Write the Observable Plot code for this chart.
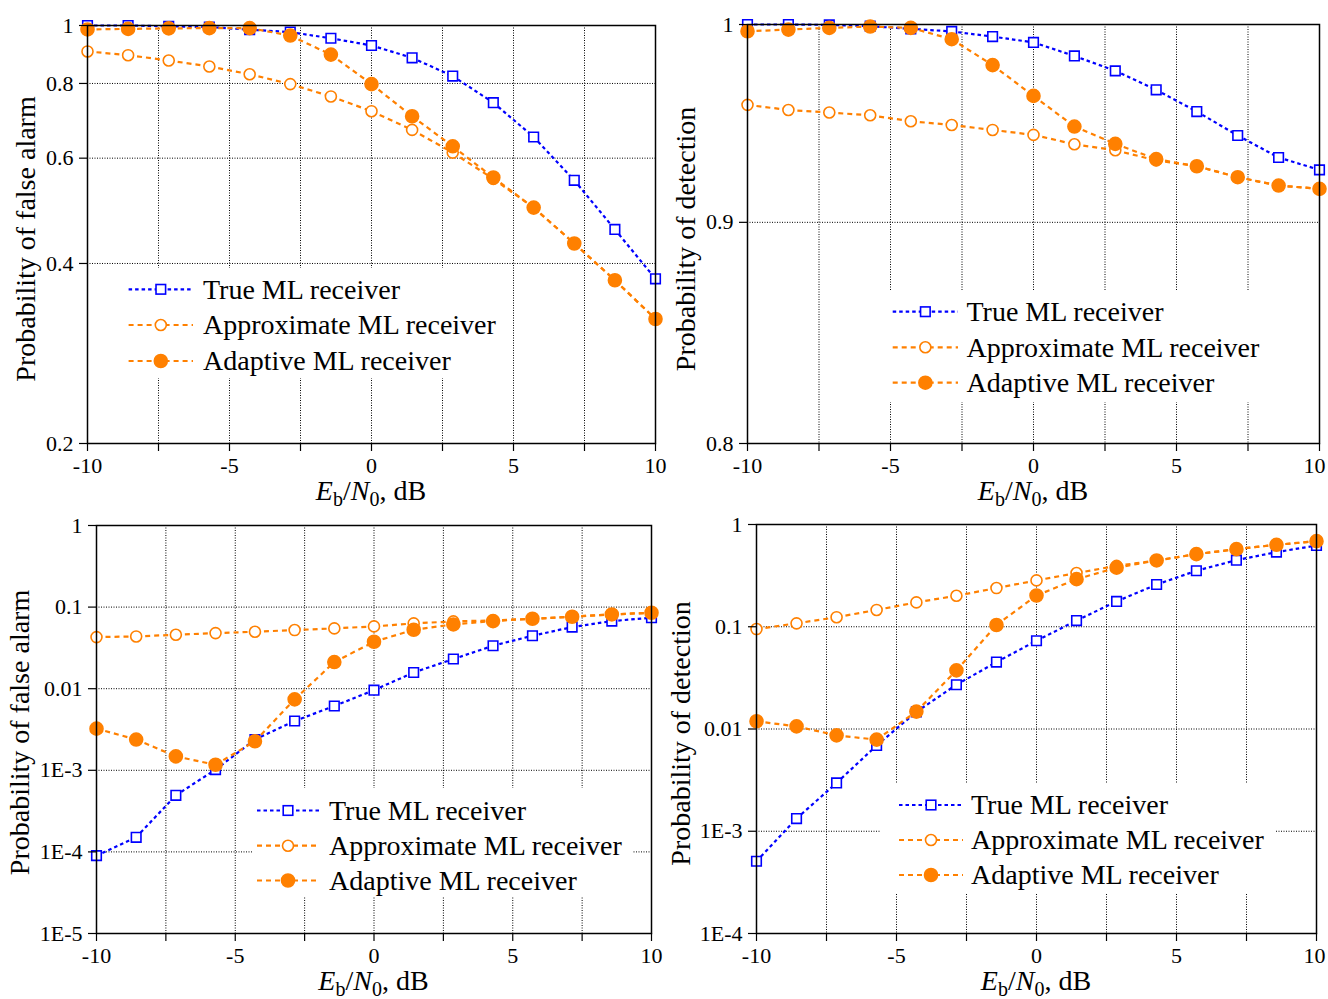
<!DOCTYPE html>
<html><head><meta charset="utf-8">
<script src="https://cdn.jsdelivr.net/npm/d3@7"></script>
<script src="https://cdn.jsdelivr.net/npm/@observablehq/plot@0.6"></script>
<style>
body{margin:0;background:#fff;}
#root{position:relative;width:1328px;height:999px;overflow:hidden;font-family:"Liberation Serif","Times New Roman",serif;}
</style></head><body><div id="root"></div>
<script>
// ---------- data ----------
const ebn0 = [-10, -8.57, -7.14, -5.71, -4.29, -2.86, -1.43, 0, 1.43, 2.86, 4.29, 5.71, 7.14, 8.57, 10];
const seriesNames = ["True ML receiver", "Approximate ML receiver", "Adaptive ML receiver"];
const xTicks = [-10, -7.5, -5, -2.5, 0, 2.5, 5, 7.5, 10];
const xTickLabels = ["-10", "", "-5", "", "0", "", "5", "", "10"];

// top-left: probability of false alarm
const pfaTopTrue   = [1.0, 1.0, 0.997, 0.994, 0.984, 0.975, 0.952, 0.926, 0.883, 0.823, 0.743, 0.651, 0.551, 0.456, 0.377];
const pfaTopApprox = [0.905, 0.892, 0.874, 0.854, 0.829, 0.798, 0.761, 0.719, 0.669, 0.613, 0.554, 0.496, 0.432, 0.375, 0.323];
const pfaTopAdapt  = [0.985, 0.987, 0.989, 0.99, 0.99, 0.962, 0.894, 0.798, 0.705, 0.628, 0.557, 0.496, 0.432, 0.375, 0.323];
const pfaTopTicks = [0.2, 0.4, 0.6, 0.8, 1];
const pfaTopTickLabels = ["0.2", "0.4", "0.6", "0.8", "1"];

// top-right: probability of detection
const pdTopTrue   = [1.0, 1.0, 0.9998, 0.9991, 0.9977, 0.9963, 0.9936, 0.9905, 0.9834, 0.9756, 0.9658, 0.9547, 0.9426, 0.9316, 0.9255];
const pdTopApprox = [0.9581, 0.9555, 0.9542, 0.9528, 0.9498, 0.9479, 0.9454, 0.9429, 0.9382, 0.9352, 0.9302, 0.9273, 0.9219, 0.9178, 0.9162];
const pdTopAdapt  = [0.9964, 0.9973, 0.9982, 0.9989, 0.9982, 0.9922, 0.9786, 0.9627, 0.9471, 0.9384, 0.9308, 0.9273, 0.9219, 0.9178, 0.9162];
const pdTopTicks = [0.8, 0.9, 1];
const pdTopTickLabels = ["0.8", "0.9", "1"];

// bottom-left: probability of false alarm
const pfaBotTrue   = [9.0e-5, 1.51e-4, 4.94e-4, 1.02e-3, 2.38e-3, 4.02e-3, 6.14e-3, 9.6e-3, 0.0158, 0.0231, 0.0336, 0.0446, 0.0569, 0.0674, 0.074];
const pfaBotApprox = [0.0429, 0.0437, 0.0458, 0.048, 0.0499, 0.0523, 0.0548, 0.058, 0.0631, 0.0668, 0.0686, 0.072, 0.0762, 0.0813, 0.0853];
const pfaBotAdapt  = [3.24e-3, 2.38e-3, 1.48e-3, 1.17e-3, 2.27e-3, 7.4e-3, 0.0212, 0.0376, 0.0528, 0.0613, 0.0674, 0.072, 0.0762, 0.0813, 0.0853];
const pfaBotTicks = [1e-5, 1e-4, 1e-3, 0.01, 0.1, 1];
const pfaBotTickLabels = ["1E-5", "1E-4", "1E-3", "0.01", "0.1", "1"];

// bottom-right: probability of detection
const pdBotTrue   = [5.09e-4, 1.33e-3, 2.97e-3, 6.9e-3, 0.0147, 0.0271, 0.0451, 0.073, 0.115, 0.177, 0.259, 0.353, 0.448, 0.537, 0.623];
const pdBotApprox = [0.0949, 0.108, 0.124, 0.146, 0.173, 0.201, 0.239, 0.284, 0.335, 0.394, 0.445, 0.513, 0.574, 0.633, 0.687];
const pdBotAdapt  = [0.0119, 0.0106, 8.67e-3, 7.87e-3, 0.0148, 0.0374, 0.104, 0.202, 0.292, 0.378, 0.445, 0.513, 0.574, 0.633, 0.687];
const pdBotTicks = [1e-4, 1e-3, 0.01, 0.1, 1];
const pdBotTickLabels = ["1E-4", "1E-3", "0.01", "0.1", "1"];

const yTitleFA = "Probability of false alarm";
const yTitleD = "Probability of detection";

// ---------- styling ----------
const BLUE = "#0000ff", ORANGE = "#ff8000";
const FONT = "'Liberation Serif','Times New Roman',serif";
const TICK_FONT = 22;
const LINE_W = 2.2;
const styles = [
  {color: BLUE,   dash: "3.5,3", symbol: "square", r: 5.4, fill: "white"},
  {color: ORANGE, dash: "5,4",   symbol: "circle", r: 5.5, fill: "white"},
  {color: ORANGE, dash: "5,4",   symbol: "circle", r: 6.5, fill: ORANGE}
];
const GRID = {stroke: "#000", strokeOpacity: 1, strokeDasharray: "1,1.5", strokeWidth: 1};

const root = document.getElementById("root");

function panel(cfg) {
  const {left, top, width, height, mL, mR, mT, mB, yTicks, yLabels, values, lastLabelDx} = cfg;
  const marks = [
    Plot.gridX(xTicks.slice(1, -1), GRID),
    Plot.gridY(yTicks.slice(1, -1), GRID)
  ];
  values.forEach((arr, s) => {
    const st = styles[s];
    const d = arr.map((v, i) => ({x: ebn0[i], y: v, series: seriesNames[s]}));
    // segment-wise dashed connection (each segment restarts its dash pattern, as in the original figure)
    const segs = d.slice(1).map((p, i) => ({x1: d[i].x, y1: d[i].y, x2: p.x, y2: p.y}));
    marks.push(Plot.link(segs, {x1: "x1", y1: "y1", x2: "x2", y2: "y2", stroke: st.color, strokeWidth: LINE_W, strokeDasharray: st.dash}));
    marks.push(Plot.dot(d, {x: "x", y: "y", symbol: st.symbol, r: st.r, stroke: st.color, strokeWidth: 1.6, fill: st.fill}));
  });
  marks.push(Plot.frame({stroke: "black", strokeWidth: 1.5}));
  const lastX = xTicks[xTicks.length - 1];
  marks.push(Plot.axisX(xTicks, {tickSize: 8, tickPadding: 6, strokeWidth: 1.2, fontSize: TICK_FONT, label: null,
    tickFormat: d => (lastLabelDx && d === lastX) ? "" : xTickLabels[xTicks.indexOf(d)]}));
  if (lastLabelDx) {
    marks.push(Plot.axisX([lastX], {tickSize: 0, tickPadding: 14, dx: lastLabelDx, fontSize: TICK_FONT, label: null,
      tickFormat: d => xTickLabels[xTicks.indexOf(d)]}));
  }
  marks.push(Plot.axisY(yTicks, {tickSize: 8, tickPadding: 6, strokeWidth: 1.2, fontSize: TICK_FONT, label: null,
    tickFormat: d => yLabels[yTicks.indexOf(d)]}));
  const svg = Plot.plot({
    width, height, marginLeft: mL, marginRight: mR, marginTop: mT, marginBottom: mB,
    style: {background: "transparent", overflow: "visible", fontFamily: FONT, color: "black"},
    x: {domain: [-10, 10]},
    y: {type: "log", domain: [yTicks[0], yTicks[yTicks.length - 1]]},
    marks
  });
  svg.style.position = "absolute";
  svg.style.left = left + "px";
  svg.style.top = top + "px";
  root.appendChild(svg);
}

panel({left: 0, top: 0, width: 664, height: 500, mL: 87, mR: 9, mT: 25, mB: 57,
  yTicks: pfaTopTicks, yLabels: pfaTopTickLabels, values: [pfaTopTrue, pfaTopApprox, pfaTopAdapt]});
panel({left: 664, top: 0, width: 664, height: 500, mL: 83, mR: 9, mT: 24, mB: 57, lastLabelDx: -5,
  yTicks: pdTopTicks, yLabels: pdTopTickLabels, values: [pdTopTrue, pdTopApprox, pdTopAdapt]});
panel({left: 0, top: 500, width: 664, height: 499, mL: 96, mR: 13, mT: 25, mB: 66,
  yTicks: pfaBotTicks, yLabels: pfaBotTickLabels, values: [pfaBotTrue, pfaBotApprox, pfaBotAdapt]});
panel({left: 664, top: 500, width: 664, height: 499, mL: 92, mR: 12, mT: 24, mB: 66, lastLabelDx: -2,
  yTicks: pdBotTicks, yLabels: pdBotTickLabels, values: [pdBotTrue, pdBotApprox, pdBotAdapt]});

// ---------- overlay: titles & legends ----------
const ov = d3.select(root).append("svg")
  .attr("width", 1328).attr("height", 999)
  .style("position", "absolute").style("left", "0px").style("top", "0px")
  .attr("font-family", FONT).attr("fill", "black");

function xLabel(cx, baseY) {
  const t = ov.append("text").attr("x", cx).attr("y", baseY).attr("text-anchor", "middle").attr("font-size", 28);
  t.append("tspan").attr("font-style", "italic").text("E");
  t.append("tspan").attr("font-size", 20).attr("dy", 6).text("b");
  t.append("tspan").attr("dy", -6).text("/");
  t.append("tspan").attr("font-style", "italic").text("N");
  t.append("tspan").attr("font-size", 20).attr("dy", 6).text("0");
  t.append("tspan").attr("dy", -6).text(", dB");
}
function yTitle(text, cx, cy) {
  ov.append("text").attr("text-anchor", "middle").attr("font-size", 28)
    .attr("transform", `translate(${cx + 6.5},${cy}) rotate(-90)`).text(text);
}
function legend(box, sx0, sx1, tx, rowsY) {
  ov.append("rect").attr("x", box[0]).attr("y", box[1]).attr("width", box[2]).attr("height", box[3]).attr("fill", "white");
  rowsY.forEach((y, s) => {
    const st = styles[s];
    ov.append("line").attr("x1", sx0).attr("x2", sx1).attr("y1", y).attr("y2", y)
      .attr("stroke", st.color).attr("stroke-width", LINE_W).attr("stroke-dasharray", st.dash);
    const mx = (sx0 + sx1) / 2;
    if (st.symbol === "square") {
      const h = st.r * Math.sqrt(Math.PI) / 2;
      ov.append("rect").attr("x", mx - h).attr("y", y - h).attr("width", 2 * h).attr("height", 2 * h)
        .attr("fill", st.fill).attr("stroke", st.color).attr("stroke-width", 1.6);
    } else {
      ov.append("circle").attr("cx", mx).attr("cy", y).attr("r", st.r)
        .attr("fill", st.fill).attr("stroke", st.color).attr("stroke-width", 1.6);
    }
    ov.append("text").attr("x", tx).attr("y", y + 9.3).attr("font-size", 28).text(seriesNames[s]);
  });
}

xLabel(371, 500);
xLabel(1033, 500);
xLabel(373.5, 990);
xLabel(1036, 990);

yTitle(yTitleFA, 28, 239);
yTitle(yTitleD, 688, 239);
yTitle(yTitleFA, 22, 732.5);
yTitle(yTitleD, 683, 733.5);

legend([112, 268, 395, 110], 128.6, 193, 203, [289.3, 325, 361]);
legend([884, 290, 408, 112], 892.7, 958, 966.5, [311.7, 347.3, 382.7]);
legend([253, 788, 380, 109], 257, 319, 329, [810.5, 845.7, 880.5]);
legend([880, 783, 396, 110], 899, 963, 971, [805, 840, 875]);
</script>
</body></html>
